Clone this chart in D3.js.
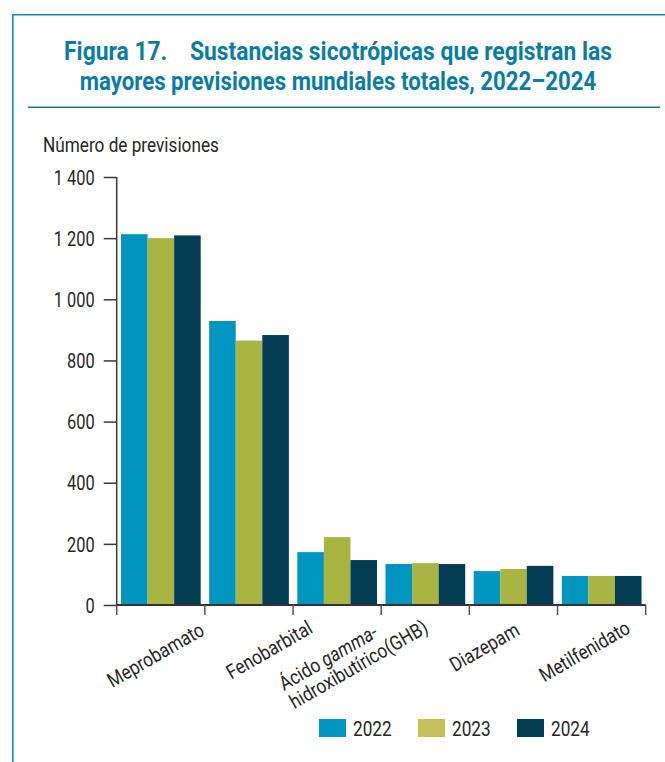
<!DOCTYPE html>
<html><head><meta charset="utf-8">
<script src="https://cdn.jsdelivr.net/npm/d3@7"></script>
<style>
html,body{margin:0;padding:0;background:#fff;}
text{font-family:"Liberation Sans Narrow","Roboto",sans-serif;}
</style></head>
<body>
<svg id="c" width="665" height="762"></svg>
<script>
// ---- data ----
const categories = ["Meprobamato","Fenobarbital","Ácido gamma-hidroxibutírico(GHB)","grupo4","Diazepam","Metilfenidato"];
const years = ["2022","2023","2024"];
const v2022 = [1213, 929, 173, 134, 111, 95];
const v2023 = [1200, 865, 222, 137, 118, 95];
const v2024 = [1209, 883, 147, 134, 128, 95];
const yTicks = [0,200,400,600,800,1000,1200,1400];
const titleLines = ["Figura 17.\u00a0\u00a0\u00a0 Sustancias sicotrópicas que registran las","mayores previsiones mundiales totales, 2022–2024"];
const yLabel = "Número de previsiones";

// ---- layout / style ----
const barColors = {"2022":"#0096c0","2023":"#a8b542","2024":"#033d53"};
const legendColors = {"2022":"#0096c0","2023":"#c6c15a","2024":"#033d53"};
const textColor = "#262626";
const K = 0.86;   // horizontal condensing of the text
const FS = 20;
const svg = d3.select("#c");

// frame
svg.append("path").attr("d","M12.8,762 V14.8 H665").attr("fill","none").attr("stroke","#0a8fbd").attr("stroke-width",1.6);
svg.append("line").attr("x1",28).attr("x2",660).attr("y1",107.3).attr("y2",107.3).attr("stroke","#0a7ba8").attr("stroke-width",1.5);

// title (bold, condensed, fitted to the reference widths)
const titleW = [548, 517];
titleLines.forEach((t,i)=>{
  const tx = svg.append("text").attr("text-anchor","middle")
    .attr("fill","#0a7ca8").attr("font-weight","bold").attr("font-size",26).text(t);
  const w = tx.node().getComputedTextLength();
  const k = titleW[i]/w;
  tx.attr("transform",`translate(338,${60 + i*30}) scale(${k},1)`);
});

const x0 = d3.scaleBand().domain(categories).range([116.7,645.7]).padding(0);
const x1 = d3.scaleBand().domain(years).range([4.3, 84]).padding(0);
const y = d3.scaleLinear().domain([0,1400]).range([605,177]);

const series = {"2022":v2022,"2023":v2023,"2024":v2024};

// bars
const g = svg.append("g");
categories.forEach((c,i)=>{
  years.forEach(yr=>{
    const v = series[yr][i];
    g.append("rect").attr("x",x0(c)+x1(yr)).attr("width",x1.bandwidth())
      .attr("y",y(v)).attr("height",y(0)-y(v)).attr("fill",barColors[yr]);
  });
});

// y axis
const yAx = svg.append("g").attr("transform","translate(116.7,0)")
  .call(d3.axisLeft(y).tickValues(yTicks).tickSize(13).tickPadding(9)
    .tickFormat(d=>d3.format(",")(d).replace(",", " ")));
yAx.select(".domain").attr("stroke","#3a3a3a").attr("stroke-width",1.5).attr("d","M0,177V605");
yAx.selectAll(".tick line").attr("stroke","#3a3a3a").attr("stroke-width",1.5);
yAx.selectAll(".tick text").attr("font-size",FS).attr("fill",textColor).attr("font-family",null)
  .attr("x",0).attr("dy","0.36em").attr("transform","translate(-22,0) scale(0.82,1)");

// x axis
const xAx = svg.append("g").attr("transform","translate(0,605)");
xAx.append("line").attr("x1",116.7).attr("x2",645.7).attr("y1",0).attr("y2",0).attr("stroke","#333").attr("stroke-width",2);
const bounds = categories.map(c=>x0(c)).concat([x0.range()[1]]);
xAx.selectAll("line.t").data(bounds).join("line").attr("class","t")
  .attr("x1",d=>d).attr("x2",d=>d).attr("y1",0).attr("y2",10).attr("stroke","#555").attr("stroke-width",1.5);

// category labels (rotated)
const labelSpec = [
  {i:0, anchor:"end", dx:45, y:634, lines:[[{t:"Meprobamato"}]]},
  {i:1, anchor:"end", dx:65, y:632, lines:[[{t:"Fenobarbital"}]]},
  {i:2, anchor:"start", dx:-53, y:691, lines:[[{t:"Ácido "},{t:"gamma",it:true},{t:"-"}],[{t:"hidroxibutírico(GHB)"}]]},
  {i:4, anchor:"end", dx:7.5, y:634, lines:[[{t:"Diazepam"}]]},
  {i:5, anchor:"end", dx:30, y:632, lines:[[{t:"Metilfenidato"}]]}
];
labelSpec.forEach(s=>{
  const cx = x0(categories[s.i]) + x0.bandwidth()/2 + s.dx;
  const t = svg.append("text").attr("transform",`translate(${cx},${s.y}) rotate(-30) scale(${K},1)`)
    .attr("text-anchor",s.anchor).attr("font-size",FS).attr("fill",textColor);
  s.lines.forEach((ln,li)=>{
    ln.forEach((p,pi)=>{
      const ts = t.append("tspan").text(p.t);
      if(pi===0){ ts.attr("x",0).attr("y", li*21); }
      if(p.it) ts.attr("font-style","italic");
    });
  });
});

// y label
svg.append("text").attr("transform",`translate(43,152) scale(0.86,1)`).attr("font-size",FS).attr("fill",textColor).text(yLabel);

// legend
const legX = {"2022":319,"2023":418,"2024":517};
years.forEach(yr=>{
  svg.append("rect").attr("x",legX[yr]).attr("y",719).attr("width",27).attr("height",18).attr("fill",legendColors[yr]);
  svg.append("text").attr("transform",`translate(${legX[yr]+34},736) scale(0.86,1)`).attr("font-size",FS).attr("fill",textColor).text(yr);
});
</script>
</body></html>
